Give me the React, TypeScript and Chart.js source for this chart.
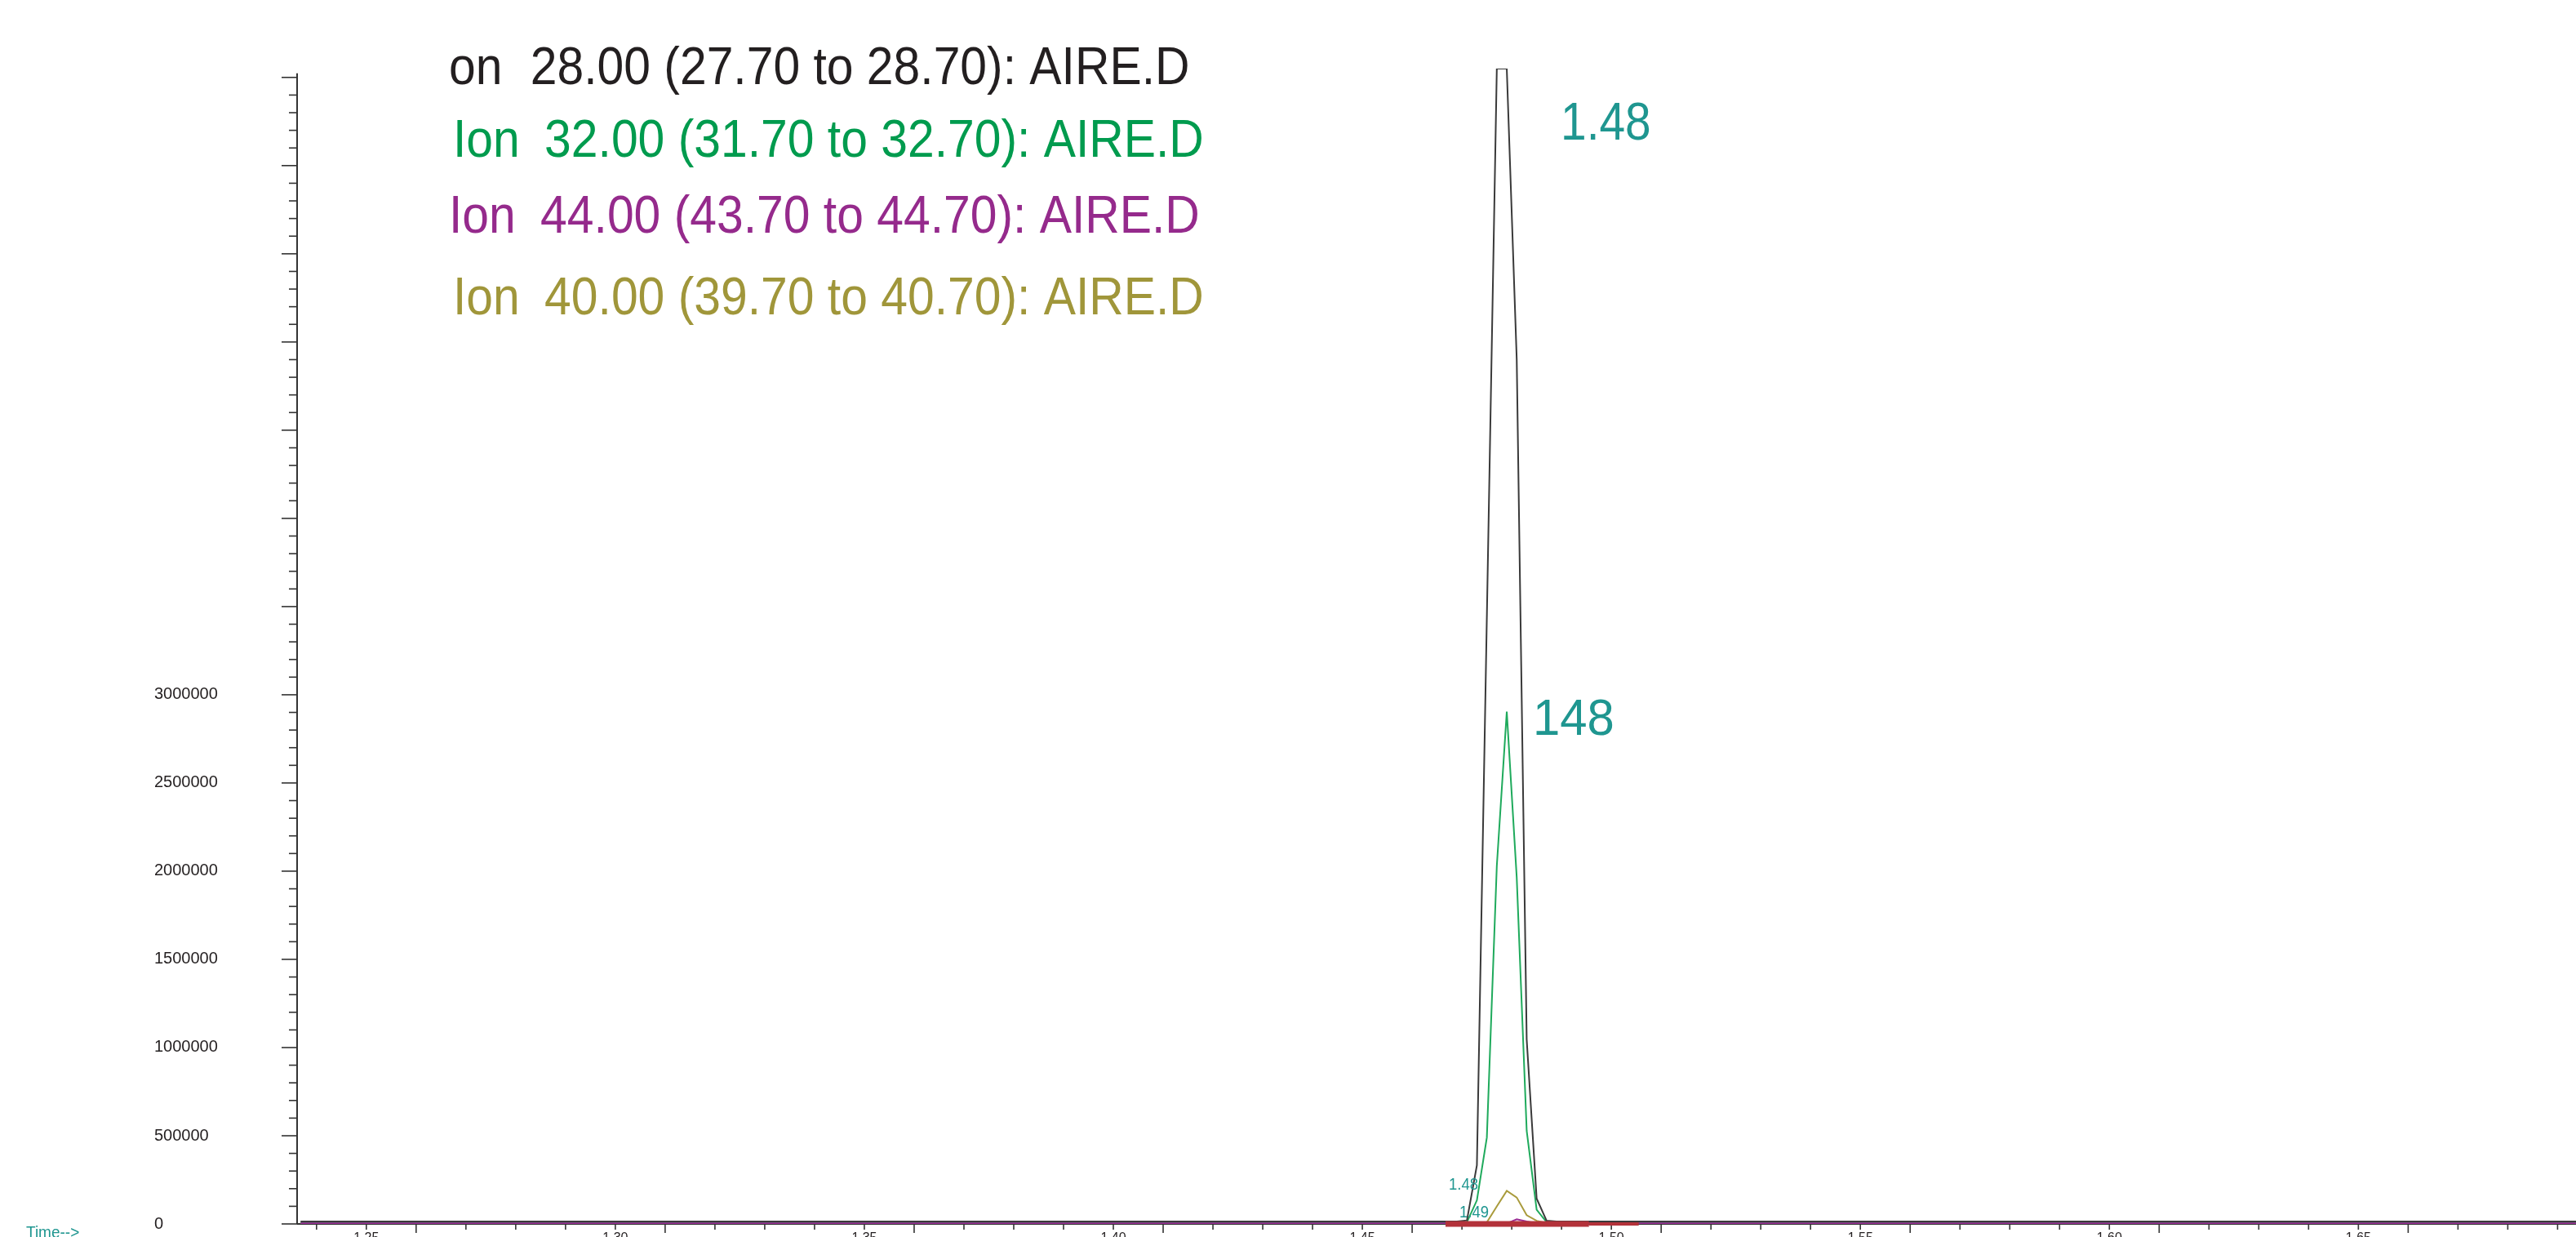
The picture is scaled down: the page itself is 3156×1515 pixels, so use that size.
import React, { useEffect, useRef } from 'react';
import { Chart, registerables } from 'chart.js';

Chart.register(...registerables);

// ---- data (retention time in min, abundance) ----
const times = [1.2368, 1.469, 1.471, 1.473, 1.475, 1.477, 1.479, 1.481, 1.483, 1.485, 1.487, 1.489, 1.6937];
const ion28 = [14000, 14000, 20000, 333000, 3442000, 6550000, 6550000, 4900000, 1046000, 143500, 18000, 14000, 14000];
const ion32 = [7000, 7000, 10000, 134000, 490000, 2030000, 2904000, 1963000, 528000, 80000, 10000, 7000, 7000];
const ion44 = [3000, 3000, 3000, 3000, 3000, 3000, 3000, 26000, 14000, 4000, 3000, 3000, 3000];
const ion40 = [5000, 5000, 5000, 5000, 9000, 99500, 188000, 150000, 49500, 18000, 5000, 5000, 5000];

const markThickTimes = [1.4667, 1.4955];
const markThinTimes = [1.4955, 1.5055];
const markValues = [0, 0];

const peakTime = 1.479;
const peakLabelBig = '1.48';
const peakLabelGreen = '148';
const peakLabelSmallA = '1.48';
const peakLabelSmallB = '1.49';

const xTickLabels = ['1.25', '1.30', '1.35', '1.40', '1.45', '1.50', '1.55', '1.60', '1.65'];
const yTickLabels = ['0', '500000', '1000000', '1500000', '2000000', '2500000', '3000000'];

const legendLines = [
  'on 28.00 (27.70 to 28.70): AIRE.D',
  'Ion 32.00 (31.70 to 32.70): AIRE.D',
  'Ion 44.00 (43.70 to 44.70): AIRE.D',
  'Ion 40.00 (39.70 to 40.70): AIRE.D',
];

const X_MIN = 1.2361;
const X_MAX = 1.6937;
const Y_MAX = 6550000;

const C_BLACK = '#3a3a3a';
const C_GREEN = '#1faa5c';
const C_PURPLE = '#9a2b93';
const C_OLIVE = '#a99b3c';
const C_RED = '#b3323a';
const C_TEAL = '#1f9690';
const FONT = '"Liberation Sans", Arial, sans-serif';

function drawText(ctx: CanvasRenderingContext2D, text: string, x: number, y: number, size: number, color: string, sx: number) {
  ctx.save();
  ctx.font = `${size}px ${FONT}`;
  ctx.fillStyle = color;
  ctx.textBaseline = 'alphabetic';
  ctx.textAlign = 'left';
  ctx.translate(x, y);
  ctx.scale(sx, 1);
  ctx.fillText(text, 0, 0);
  ctx.restore();
}

// draws first word, then the rest with a wider gap (as in the source figure)
function drawLegendLine(ctx: CanvasRenderingContext2D, text: string, x: number, y: number, size: number, color: string, sx: number, gap: number) {
  const idx = text.indexOf(' ');
  const first = text.slice(0, idx);
  const rest = text.slice(idx);
  ctx.save();
  ctx.font = `${size}px ${FONT}`;
  const w = ctx.measureText(first).width * sx;
  ctx.restore();
  drawText(ctx, first, x, y, size, color, sx);
  drawText(ctx, rest, x + w + gap, y, size, color, sx);
}

const chemPlugin = {
  id: 'chemAxes',
  beforeDatasetsDraw(chart: any) {
    const { ctx, chartArea, scales } = chart;
    const x = scales.x;
    const y = scales.y;
    ctx.save();
    ctx.strokeStyle = '#333333';
    ctx.lineWidth = 2;
    const seg = (x1: number, y1: number, x2: number, y2: number) => {
      ctx.beginPath();
      ctx.moveTo(x1, y1);
      ctx.lineTo(x2, y2);
      ctx.stroke();
    };
    const left = chartArea.left;
    const bottom = chartArea.bottom;
    seg(left, y.getPixelForValue(6500000) - 5, left, bottom);
    seg(left, bottom, chartArea.right, bottom);
    ctx.lineWidth = 1.6;
    for (let i = 0; i <= 65; i++) {
      const py = y.getPixelForValue(i * 100000);
      const len = i % 5 === 0 ? 19 : 10;
      seg(left - len, py, left, py);
    }
    for (let i = 124; i <= 169; i++) {
      const px = x.getPixelForValue(i / 100);
      const len = (i - 1) % 5 === 0 ? 11 : 7;
      seg(px, bottom, px, bottom + len);
    }
    ctx.restore();
  },
  afterDraw(chart: any) {
    const { ctx, chartArea, scales } = chart;
    const x = scales.x;
    const y = scales.y;
    const legendColors = ['#231f20', '#009b4e', '#952a8c', '#a0963a'];
    const legendX = [550, 555, 550, 555];
    const legendBase = [103, 192, 285, 385];
    const legendGap = [18, 14, 14, 14];
    legendLines.forEach((t, i) => drawLegendLine(ctx, t, legendX[i], legendBase[i], 65, legendColors[i], 0.905, legendGap[i]));

    const px0 = x.getPixelForValue(peakTime);
    drawText(ctx, peakLabelBig, px0 + 66, chartArea.top + 87, 65, C_TEAL, 0.875);
    drawText(ctx, peakLabelGreen, px0 + 32, y.getPixelForValue(Math.max(...ion32)) + 28, 63, C_TEAL, 0.95);
    drawText(ctx, peakLabelSmallA, px0 - 71, chartArea.bottom - 42, 21, C_TEAL, 0.88);
    drawText(ctx, peakLabelSmallB, px0 - 58, chartArea.bottom - 8, 21, C_TEAL, 0.88);

    drawText(ctx, 'Time-->', 32, 1516, 20, C_TEAL, 0.95);
  },
};

function series(ts: number[], vs: number[]) {
  return ts.map((t, i) => ({ x: t, y: vs[i] }));
}

export default function App() {
  const ref = useRef<HTMLCanvasElement | null>(null);

  useEffect(() => {
    if (!ref.current) return;
    const chart = new Chart(ref.current, {
      type: 'line',
      data: {
        datasets: [
          { label: 'mark1', data: series(markThickTimes, markValues), borderColor: C_RED, borderWidth: 7, order: 0, clip: false },
          { label: 'mark2', data: series(markThinTimes, markValues), borderColor: C_RED, borderWidth: 4, order: 0, clip: false },
          { label: 'Ion 44', data: series(times, ion44), borderColor: C_PURPLE, borderWidth: 2, order: 1 },
          { label: 'Ion 28', data: series(times, ion28), borderColor: C_BLACK, borderWidth: 2, order: 2 },
          { label: 'Ion 32', data: series(times, ion32), borderColor: C_GREEN, borderWidth: 2, order: 3 },
          { label: 'Ion 40', data: series(times, ion40), borderColor: C_OLIVE, borderWidth: 2, order: 4 },
        ],
      },
      options: {
        responsive: false,
        animation: false,
        layout: { padding: { left: 189, top: 84, right: 0, bottom: 0 } },
        elements: { point: { radius: 0 }, line: { tension: 0, fill: false } },
        plugins: { legend: { display: false }, tooltip: { enabled: false } },
        scales: {
          x: {
            type: 'linear',
            min: X_MIN,
            max: X_MAX,
            grid: { display: false, drawTicks: false },
            border: { display: false },
            afterBuildTicks: (s: any) => {
              s.ticks = xTickLabels.map((l) => ({ value: parseFloat(l) }));
            },
            afterFit: (s: any) => {
              s.height = 41;
            },
            ticks: {
              autoSkip: false,
              maxRotation: 0,
              padding: 8,
              color: '#231f20',
              font: { family: FONT, size: 16 },
              callback: (v: any) => Number(v).toFixed(2),
            },
          },
          y: {
            type: 'linear',
            min: 0,
            max: Y_MAX,
            grid: { display: false, drawTicks: false },
            border: { display: false },
            afterBuildTicks: (s: any) => {
              s.ticks = yTickLabels.map((l) => ({ value: Number(l) }));
            },
            afterFit: (s: any) => {
              s.width = 175;
            },
            ticks: {
              autoSkip: false,
              crossAlign: 'far',
              padding: 0,
              color: '#231f20',
              font: { family: FONT, size: 20 },
              callback: (v: any) => String(v),
            },
          },
        },
      } as any,
      plugins: [chemPlugin],
    });
    return () => chart.destroy();
  }, []);

  return (
    <div style={{ position: 'fixed', left: 0, top: 0, width: 3156, height: 1515, overflow: 'hidden', background: '#ffffff' }}>
      <canvas ref={ref} width={3156} height={1540} style={{ display: 'block', width: 3156, height: 1540 }} />
    </div>
  );
}
